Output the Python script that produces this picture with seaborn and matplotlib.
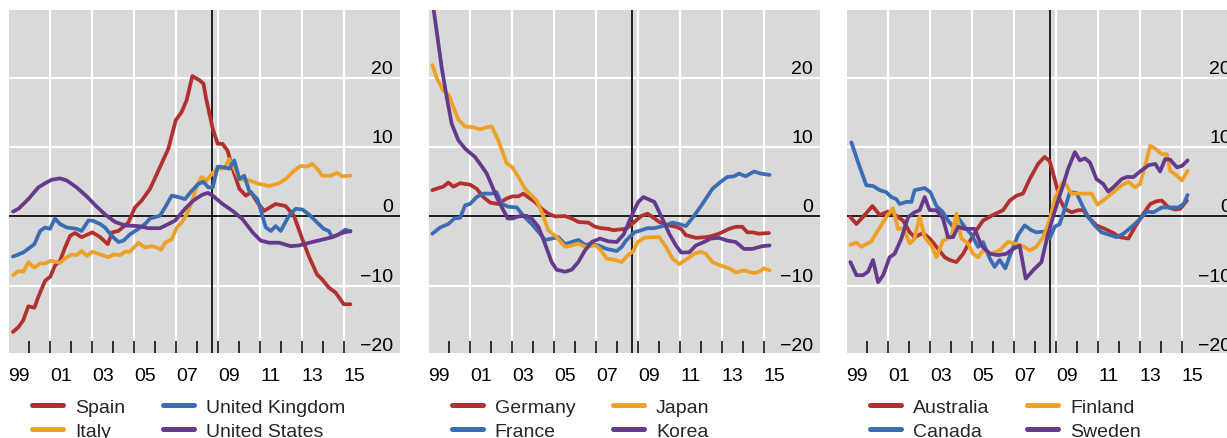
import matplotlib
matplotlib.use("Agg")
import matplotlib.pyplot as plt
import pandas as pd
import seaborn as sns

# ---------------- series (year, value) ----------------
spain_x = [1999.22, 1999.48, 1999.71, 1999.95, 2000.24, 2000.43, 2000.75, 2001.0, 2001.22, 2001.46, 2001.7,
           2001.94, 2002.17, 2002.49, 2003.0, 2003.37, 2003.73, 2003.95, 2004.24, 2004.71, 2005.03, 2005.35,
           2005.75, 2006.14, 2006.62, 2006.97, 2007.25, 2007.49, 2007.76, 2008.1, 2008.29, 2008.42, 2008.73,
           2008.97, 2009.2, 2009.44, 2009.68, 2010.0, 2010.31, 2010.55, 2010.86, 2011.18, 2011.73, 2012.2,
           2012.6, 2013.0, 2013.3, 2013.7, 2013.94, 2014.26, 2014.58, 2014.97, 2015.29]
spain_y = [-16.7, -16.0, -15.0, -13.0, -13.2, -11.6, -9.3, -8.7, -7.1, -6.4, -4.5,
           -2.8, -2.4, -3.0, -2.3, -3.0, -4.0, -2.3, -2.1, -0.9, 1.3, 2.3,
           4.0, 6.6, 9.8, 13.9, 15.1, 16.8, 20.3, 19.7, 19.2, 17.0, 12.7,
           10.5, 10.5, 9.5, 6.9, 4.0, 3.0, 3.5, 2.0, 0.8, 1.8, 1.5,
           0.1, -3.3, -5.7, -8.4, -9.1, -10.3, -11.0, -12.7, -12.7]

uk_x = [1999.22, 1999.48, 1999.71, 2000.03, 2000.24, 2000.51, 2000.75, 2000.98, 2001.22, 2001.46, 2001.78,
        2002.25, 2002.49, 2002.81, 2003.0, 2003.37, 2003.6, 2003.92, 2004.24, 2004.48, 2004.79, 2005.19,
        2005.51, 2005.75, 2006.22, 2006.46, 2006.78, 2007.1, 2007.41, 2007.73, 2008.05, 2008.29, 2008.52,
        2008.73, 2008.97, 2009.28, 2009.52, 2009.76, 2010.0, 2010.23, 2010.47, 2010.86, 2011.26, 2011.5,
        2011.73, 2011.97, 2012.36, 2012.68, 2013.0, 2013.31, 2013.71, 2014.02, 2014.26, 2014.42, 2014.73,
        2015.05, 2015.29]
uk_y = [-5.8, -5.5, -5.2, -4.5, -4.0, -2.1, -1.6, -1.8, -0.3, -1.1, -1.6,
        -1.8, -2.1, -0.6, -0.6, -1.1, -1.6, -2.8, -3.7, -3.5, -2.6, -1.8,
        -1.1, -0.3, 0.1, 1.3, 3.0, 2.8, 2.5, 3.7, 4.7, 5.0, 4.2,
        4.2, 7.2, 7.1, 6.9, 8.1, 5.4, 5.9, 3.7, 2.5, -1.6, -2.1,
        -1.4, -2.1, 0.1, 1.1, 1.0, 0.3, -0.9, -1.8, -2.1, -3.0, -2.6,
        -1.9, -2.2]

italy_x = [1999.22, 1999.48, 1999.71, 1999.95, 2000.24, 2000.51, 2000.75, 2001.02, 2001.46, 2001.78, 2002.02,
           2002.25, 2002.49, 2002.73, 2003.0, 2003.37, 2003.76, 2004.0, 2004.32, 2004.56, 2004.79, 2005.19,
           2005.51, 2005.83, 2006.06, 2006.27, 2006.46, 2006.78, 2007.02, 2007.25, 2007.49, 2007.73, 2007.97,
           2008.21, 2008.44, 2008.76, 2008.97, 2009.28, 2009.52, 2009.76, 2010.0, 2010.47, 2010.94, 2011.42,
           2011.89, 2012.2, 2012.6, 2012.92, 2013.23, 2013.47, 2013.71, 2013.94, 2014.34, 2014.66, 2014.89,
           2015.29]
italy_y = [-8.5, -7.9, -8.0, -6.6, -7.4, -6.8, -6.8, -6.4, -6.7, -5.9, -5.5,
           -5.6, -5.0, -5.7, -5.1, -5.5, -5.9, -5.5, -5.6, -5.1, -5.1, -3.8,
           -4.5, -4.3, -4.5, -4.8, -3.8, -3.3, -1.6, -0.9, 0.3, 2.0, 4.4,
           5.7, 5.2, 6.4, 6.9, 6.9, 8.3, 6.9, 5.4, 5.2, 4.7, 4.4,
           4.8, 5.4, 6.6, 7.3, 7.2, 7.6, 6.9, 5.9, 5.9, 6.3, 5.8,
           5.9]

us_x = [1999.22, 1999.48, 1999.95, 2000.43, 2000.75, 2001.06, 2001.46, 2001.78, 2002.25, 2002.73, 2003.21,
        2003.6, 2004.08, 2004.56, 2005.19, 2005.67, 2006.22, 2006.62, 2006.94, 2007.41, 2007.81, 2008.21,
        2008.5, 2008.73, 2009.2, 2009.68, 2010.15, 2010.63, 2011.02, 2011.42, 2011.89, 2012.44, 2012.84,
        2013.47, 2014.02, 2014.42, 2014.89, 2015.29]
us_y = [0.7, 1.1, 2.5, 4.2, 4.8, 5.3, 5.5, 5.2, 4.2, 2.9, 1.4,
        0.3, -0.8, -1.3, -1.4, -1.7, -1.7, -1.1, -0.6, 1.1, 2.3, 3.1,
        3.4, 3.0, 1.8, 0.8, -0.4, -2.3, -3.5, -3.8, -3.8, -4.3, -4.2,
        -3.7, -3.3, -3.0, -2.4, -2.1]

germany_x = [1999.19, 1999.48, 1999.71, 1999.95, 2000.19, 2000.51, 2000.98, 2001.3, 2001.62, 2001.94, 2002.33,
             2002.73, 2003.0, 2003.29, 2003.52, 2003.84, 2004.08, 2004.4, 2004.71, 2005.03, 2005.51, 2005.83,
             2006.14, 2006.62, 2006.94, 2007.25, 2007.57, 2007.81, 2008.05, 2008.41, 2008.81, 2009.13, 2009.44,
             2009.68, 2010.0, 2010.31, 2010.79, 2011.03, 2011.26, 2011.74, 2012.21, 2012.53, 2012.84, 2013.32,
             2013.64, 2013.95, 2014.19, 2014.43, 2014.74, 2015.22]
germany_y = [3.8, 4.1, 4.3, 4.9, 4.3, 4.8, 4.6, 4.0, 2.8, 2.0, 1.8,
             2.6, 2.9, 2.9, 3.3, 2.6, 2.1, 1.1, 0.4, 0.0, 0.05, -0.3,
             -0.8, -0.9, -1.5, -1.7, -1.8, -2.0, -1.9, -1.8, -0.8, 0.05, 0.4,
             -0.1, -0.8, -1.2, -1.5, -1.8, -2.7, -3.1, -3.0, -2.8, -2.5, -1.8,
             -1.5, -1.5, -2.3, -2.3, -2.5, -2.4]

france_x = [1999.19, 1999.56, 1999.95, 2000.24, 2000.51, 2000.75, 2000.98, 2001.3, 2001.62, 2002.02, 2002.25,
            2002.49, 2002.81, 2003.21, 2003.52, 2003.92, 2004.32, 2004.56, 2004.87, 2005.19, 2005.51, 2005.83,
            2006.14, 2006.46, 2006.78, 2007.1, 2007.49, 2007.97, 2008.21, 2008.41, 2008.81, 2009.13, 2009.44,
            2009.76, 2010.15, 2010.63, 2010.95, 2011.26, 2011.66, 2012.05, 2012.53, 2012.92, 2013.24, 2013.56,
            2013.79, 2014.11, 2014.51, 2014.82, 2015.25]
france_y = [-2.5, -1.6, -1.1, -0.3, -0.2, 1.6, 1.8, 2.8, 3.3, 3.3, 3.5,
            1.8, 1.4, 1.3, 0.1, -1.1, -2.5, -3.4, -3.2, -3.0, -4.0, -3.7,
            -3.4, -4.1, -4.0, -4.2, -4.7, -5.0, -4.4, -3.5, -2.3, -2.0, -1.7,
            -1.7, -1.4, -0.9, -1.1, -1.4, 0.1, 1.8, 4.0, 5.0, 5.7, 5.8,
            6.2, 5.8, 6.5, 6.2, 6.0]

japan_x = [1999.19, 1999.4, 1999.71, 1999.98, 2000.19, 2000.43, 2000.75, 2001.14, 2001.46, 2001.78, 2002.02,
           2002.33, 2002.73, 2003.0, 2003.29, 2003.6, 2003.92, 2004.16, 2004.4, 2004.71, 2005.11, 2005.51,
           2005.83, 2006.14, 2006.46, 2006.94, 2007.17, 2007.49, 2007.89, 2008.21, 2008.44, 2008.76, 2008.97,
           2009.28, 2009.6, 2010.0, 2010.31, 2010.63, 2010.95, 2011.34, 2011.66, 2011.97, 2012.21, 2012.53,
           2012.92, 2013.32, 2013.64, 2014.03, 2014.51, 2014.74, 2014.98, 2015.25]
japan_y = [21.9, 20.0, 18.2, 17.5, 15.8, 14.0, 13.0, 12.9, 12.6, 12.9, 13.0,
           11.0, 7.7, 7.1, 5.7, 4.0, 3.0, 2.3, 0.6, -2.0, -3.0, -4.4,
           -4.2, -3.9, -4.4, -4.2, -4.7, -6.1, -6.3, -6.6, -5.8, -5.0, -3.7,
           -3.1, -3.0, -3.0, -4.4, -6.1, -6.9, -6.1, -5.4, -5.1, -5.4, -6.6,
           -7.1, -7.5, -8.1, -7.8, -8.2, -8.0, -7.5, -7.8]

korea_x = [1999.2, 1999.4, 1999.63, 1999.87, 2000.11, 2000.43, 2000.75, 2001.22, 2001.46, 2001.78, 2002.02,
           2002.25, 2002.57, 2002.78, 2003.0, 2003.29, 2003.68, 2003.92, 2004.24, 2004.56, 2004.87, 2005.11,
           2005.51, 2005.83, 2006.14, 2006.46, 2006.78, 2007.17, 2007.57, 2007.97, 2008.3, 2008.55, 2008.8,
           2009.0, 2009.24, 2009.76, 2010.08, 2010.47, 2010.79, 2011.03, 2011.42, 2011.74, 2012.05, 2012.45,
           2012.84, 2013.24, 2013.64, 2014.03, 2014.43, 2014.9, 2015.25]
korea_y = [31.0, 26.7, 21.6, 17.3, 13.4, 11.0, 9.8, 8.6, 7.6, 6.2, 4.5,
           2.8, 0.9, -0.3, -0.3, 0.0, 0.1, -0.3, -1.5, -4.0, -6.6, -7.7,
           -8.0, -7.7, -6.6, -4.9, -3.7, -3.2, -3.6, -3.7, -2.6, -0.8, 0.9,
           2.1, 2.8, 2.1, 0.1, -2.5, -4.2, -5.2, -5.2, -4.2, -3.8, -3.2,
           -3.1, -3.5, -3.7, -4.7, -4.7, -4.3, -4.2]

australia_x = [1999.19, 1999.48, 1999.87, 2000.24, 2000.59, 2000.98, 2001.38, 2001.7, 2002.02, 2002.25, 2002.65,
               2002.97, 2003.37, 2003.68, 2003.92, 2004.24, 2004.56, 2004.95, 2005.19, 2005.51, 2005.98, 2006.46,
               2006.78, 2007.1, 2007.41, 2007.73, 2008.13, 2008.44, 2008.68, 2008.92, 2009.16, 2009.4, 2009.72,
               2010.04, 2010.28, 2010.52, 2010.91, 2011.31, 2011.71, 2012.03, 2012.43, 2012.75, 2013.15, 2013.47,
               2013.78, 2014.02, 2014.34, 2014.66, 2014.9, 2015.22]
australia_y = [-0.1, -1.1, 0.2, 1.5, 0.2, 0.7, 0.1, -0.6, -2.3, -3.0, -2.4,
               -3.2, -4.7, -5.9, -6.3, -6.6, -5.4, -3.2, -2.0, -0.6, 0.2, 0.9,
               2.3, 3.0, 3.3, 5.4, 7.6, 8.6, 8.0, 5.4, 2.5, 1.1, 0.6,
               0.9, 0.9, -0.1, -1.3, -1.8, -2.4, -3.0, -3.2, -1.5, 0.4, 1.8,
               2.2, 2.3, 1.3, 1.0, 1.1, 2.3]

canada_x = [1999.24, 1999.56, 1999.95, 2000.27, 2000.59, 2000.9, 2001.14, 2001.38, 2001.54, 2001.86, 2002.1,
            2002.25, 2002.73, 2003.0, 2003.29, 2003.6, 2003.84, 2004.08, 2004.32, 2004.63, 2004.95, 2005.27,
            2005.51, 2005.83, 2006.06, 2006.3, 2006.57, 2006.86, 2007.17, 2007.49, 2007.81, 2008.05, 2008.37,
            2008.68, 2008.92, 2009.16, 2009.4, 2009.64, 2009.96, 2010.2, 2010.52, 2010.83, 2011.15, 2011.47,
            2011.87, 2012.19, 2012.59, 2012.91, 2013.31, 2013.63, 2014.02, 2014.42, 2014.82, 2015.06, 2015.25]
canada_y = [10.7, 7.8, 4.5, 4.4, 3.8, 3.5, 2.8, 2.5, 1.8, 2.1, 2.1,
            3.8, 4.1, 3.5, 1.5, 0.6, -0.6, -1.5, -0.2, -1.5, -2.6, -4.4,
            -3.7, -6.1, -7.3, -6.3, -7.5, -5.1, -2.7, -1.3, -2.0, -2.3, -2.2,
            -3.2, -1.5, -1.1, 1.1, 3.5, 3.4, 1.8, -0.1, -1.3, -2.3, -2.6,
            -3.0, -2.5, -1.5, -0.6, 0.7, 0.6, 1.3, 1.3, 1.3, 1.8, 3.1]

finland_x = [1999.19, 1999.48, 1999.71, 2000.19, 2000.51, 2000.9, 2001.22, 2001.46, 2001.7, 2002.02, 2002.25,
             2002.49, 2002.73, 2003.05, 2003.29, 2003.6, 2004.0, 2004.24, 2004.48, 2004.79, 2005.03, 2005.27,
             2005.51, 2005.9, 2006.3, 2006.7, 2007.02, 2007.41, 2007.73, 2008.05, 2008.37, 2008.68, 2008.95,
             2009.32, 2009.48, 2009.72, 2010.04, 2010.44, 2010.67, 2010.96, 2011.31, 2011.71, 2012.11, 2012.43,
             2012.75, 2012.99, 2013.23, 2013.47, 2013.71, 2014.02, 2014.26, 2014.42, 2014.74, 2014.98, 2015.25]
finland_y = [-4.1, -3.8, -4.4, -3.6, -2.0, -0.1, 1.2, -1.8, -1.7, -3.9, -3.2,
             0.0, -3.0, -4.2, -5.9, -3.5, -3.0, 0.4, -3.2, -3.9, -5.4, -5.9,
             -4.9, -5.4, -4.9, -3.7, -3.9, -4.3, -4.9, -4.4, -3.0, -0.5, 2.8,
             5.0, 4.5, 3.3, 3.3, 3.3, 3.3, 1.7, 2.5, 3.5, 4.5, 5.0,
             4.2, 4.7, 7.4, 10.2, 9.8, 9.0, 9.0, 6.6, 5.9, 5.2, 6.6]

sweden_x = [1999.19, 1999.48, 1999.79, 2000.03, 2000.27, 2000.51, 2000.75, 2001.06, 2001.3, 2001.62, 2001.94,
            2002.25, 2002.49, 2002.73, 2002.97, 2003.29, 2003.6, 2003.84, 2004.08, 2004.32, 2004.63, 2005.11,
            2005.43, 2005.83, 2006.22, 2006.62, 2006.94, 2007.25, 2007.54, 2007.89, 2008.29, 2008.55, 2008.8,
            2009.08, 2009.32, 2009.56, 2009.88, 2010.12, 2010.36, 2010.6, 2010.91, 2011.23, 2011.47, 2011.71,
            2012.11, 2012.35, 2012.67, 2012.99, 2013.39, 2013.71, 2013.94, 2014.18, 2014.42, 2014.74, 2014.98,
            2015.25]
sweden_y = [-6.6, -8.5, -8.5, -8.0, -6.3, -9.5, -8.5, -5.9, -5.4, -3.2, -0.1,
            0.6, 0.9, 2.8, 0.9, 0.9, -0.3, -3.0, -3.0, -1.5, -1.8, -1.8,
            -4.2, -5.4, -5.6, -5.4, -4.7, -4.2, -9.0, -7.8, -6.6, -3.2, -0.5,
            2.3, 4.5, 6.9, 9.3, 8.1, 8.4, 7.8, 5.4, 4.7, 3.6, 4.2,
            5.4, 5.7, 5.7, 6.5, 7.4, 7.6, 6.5, 8.3, 8.2, 7.1, 7.3,
            8.1]

RED, BLUE, ORANGE, PURPLE = "#B2302D", "#3A6DB4", "#EDA127", "#65398B"

# each panel: (name, x, y, colour), listed in legend order (column by column)
panels = [
    [("Spain", spain_x, spain_y, RED), ("Italy", italy_x, italy_y, ORANGE),
     ("United Kingdom", uk_x, uk_y, BLUE), ("United States", us_x, us_y, PURPLE)],
    [("Germany", germany_x, germany_y, RED), ("France", france_x, france_y, BLUE),
     ("Japan", japan_x, japan_y, ORANGE), ("Korea", korea_x, korea_y, PURPLE)],
    [("Australia", australia_x, australia_y, RED), ("Canada", canada_x, canada_y, BLUE),
     ("Finland", finland_x, finland_y, ORANGE), ("Sweden", sweden_x, sweden_y, PURPLE)],
]

year_labels = ["99", "01", "03", "05", "07", "09", "11", "13", "15"]
label_years = [1999.5, 2001.5, 2003.5, 2005.5, 2007.5, 2009.5, 2011.5, 2013.5, 2015.5]
tick_years = list(range(2000, 2016))
grid_years = [2001, 2003, 2005, 2007, 2009, 2011, 2013, 2015]
y_levels = [-20, -10, 0, 10, 20]
crisis_date = 2008.71

sns.set_style("white", {"axes.facecolor": "#D9D9D9"})
plt.rcParams["font.family"] = ["Liberation Sans", "DejaVu Sans"]
plt.rcParams["axes.unicode_minus"] = True

W, H = 1227, 439
fig = plt.figure(figsize=(W / 100, H / 100), dpi=100)
fig.patch.set_facecolor("white")

lefts = [9, 429, 847]
ax_w, ax_top, ax_bot = 391, 11, 354

for left, series in zip(lefts, panels):
    ax = fig.add_axes([left / W, 1 - ax_bot / H, ax_w / W, (ax_bot - ax_top) / H])
    ax.set_facecolor("#D9D9D9")
    for s in ax.spines.values():
        s.set_visible(False)

    frames = [pd.DataFrame({"year": xs, "value": ys, "country": name}) for name, xs, ys, _ in series]
    df = pd.concat(frames, ignore_index=True)
    names = [name for name, _, _, _ in series]
    palette = {name: col for name, _, _, col in series}

    # grid
    for gy in [-10, 10, 20]:
        ax.axhline(gy, color="white", lw=1.6, zorder=0.5)
    for gx in grid_years:
        ax.axvline(gx, color="white", lw=1.6, zorder=0.5)
    ax.axhline(0, color="black", lw=1.2, zorder=0.8)
    ax.axvline(crisis_date, color="black", lw=1.2, zorder=0.8)

    sns.lineplot(data=df, x="year", y="value", hue="country", hue_order=names,
                 palette=palette, estimator=None, sort=False,
                 linewidth=2.7, ax=ax, zorder=3)

    ax.set_xlim(1999.03, 2017.65)
    ax.set_ylim(-19.75, 29.85)
    ax.set_xlabel("")
    ax.set_ylabel("")

    ax.set_xticks(label_years)
    ax.set_xticklabels(year_labels, fontsize=14)
    ax.set_xticks(tick_years, minor=True)
    ax.tick_params(axis="x", which="major", length=0, pad=10, colors="black")
    ax.tick_params(axis="x", which="minor", direction="in", length=8.6, width=1.1,
                   color="black", bottom=True)
    ax.set_yticks([])

    trans = ax.get_yaxis_transform()
    for yv in y_levels:
        txt = f"{yv}".replace("-", "\u2212")
        ax.annotate(txt, xy=(0.982, yv), xycoords=trans, xytext=(0, 1),
                    textcoords="offset pixels", ha="right", va="bottom",
                    fontsize=14, color="black", zorder=4)

    sns.move_legend(ax, "upper left", bbox_to_anchor=(0.059, -0.133), ncol=2,
                    frameon=False, title=None, fontsize=14, handlelength=1.6,
                    handletextpad=0.6, columnspacing=1.95, borderpad=0,
                    borderaxespad=0, labelspacing=0.33)
    leg = ax.get_legend()
    for h in leg.legend_handles:
        h.set_linewidth(3.6)

fig.savefig("out.png", dpi=100)
